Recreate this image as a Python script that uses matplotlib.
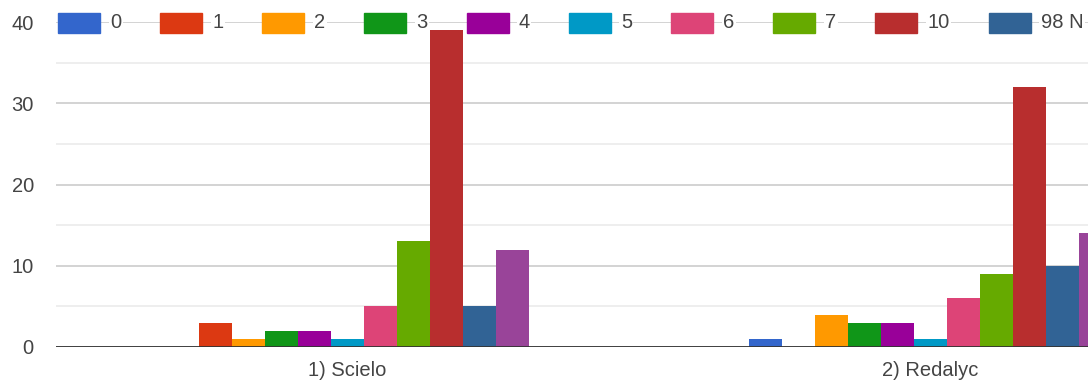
import matplotlib.pyplot as plt
from matplotlib.patches import Rectangle
import numpy as np

plt.rcParams['font.family'] = ['Liberation Sans', 'DejaVu Sans']

categories = ["1) Scielo", "2) Redalyc"]
series_labels = ["0", "1", "2", "3", "4", "5", "6", "7", "10", "98 N", "99"]
colors = ["#3366cc", "#dc3912", "#ff9900", "#109618", "#990099", "#0099c6",
          "#dd4477", "#66aa00", "#b82e2e", "#316395", "#994499"]
scielo = [0, 3, 1, 2, 2, 1, 5, 13, 39, 5, 12]
redalyc = [1, 0, 4, 3, 3, 1, 6, 9, 32, 10, 14]

W, H = 1088, 385
fig = plt.figure(figsize=(W / 100, H / 100), dpi=100)
ax = fig.add_axes([56 / W, (H - 347) / H, 1 - 56 / W, (347 - 22) / H])

values = np.array([scielo, redalyc])
n = len(series_labels)
bw = 33 / 583
x = np.arange(len(categories))
for i in range(n):
    ax.bar(x - bw * n / 2 + bw * (i + 0.5), values[:, i], width=bw,
           color=colors[i], zorder=3, linewidth=0)

ax.set_xlim(-0.5, -0.5 + (W - 56) / 583)
ax.set_ylim(0, 40)
ax.set_yticks([0, 10, 20, 30, 40])
ax.set_yticks([5, 15, 25, 35], minor=True)
ax.set_xticks(x)
ax.set_xticklabels(categories)
ax.tick_params(axis="both", which="both", length=0, labelsize=14.5, labelcolor="#444444")
ax.tick_params(axis="y", pad=16)
ax.tick_params(axis="x", pad=10)
ax.grid(axis="y", which="major", color="#cccccc", linewidth=1.2, zorder=0)
ax.grid(axis="y", which="minor", color="#ebebeb", linewidth=1.2, zorder=0)
ax.axhline(0, color="#333333", linewidth=2, zorder=4)
for s in ax.spines.values():
    s.set_visible(False)

# legend along the top gridline, items spaced by label width
renderer = fig.canvas.get_renderer()
x0 = 58
for i, lab in enumerate(series_labels[:10]):
    fig.patches.append(Rectangle((x0 / W, (H - 33) / H), 42 / W, 20 / H,
                                 transform=fig.transFigure, color=colors[i],
                                 zorder=5))
    t = fig.text((x0 + 52) / W, (H - 23) / H, lab, fontsize=14.5, color="#444444",
                 va="center", ha="left",
                 bbox=dict(facecolor="white", edgecolor="none", pad=1))
    w = t.get_window_extent(renderer=renderer).width
    x0 = x0 + 52 + w + 39

fig.savefig("out.png", dpi=100)
